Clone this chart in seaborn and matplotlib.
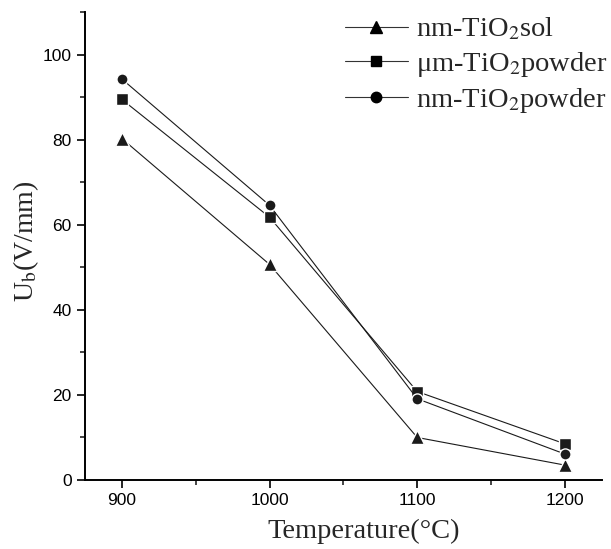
import matplotlib
matplotlib.use("Agg")
import matplotlib.pyplot as plt
import seaborn as sns
import pandas as pd
from matplotlib.ticker import MultipleLocator

temperature = [900, 1000, 1100, 1200]
nm_sol = [80.3, 50.7, 10.0, 3.5]
um_powder = [89.5, 61.8, 20.8, 8.5]
nm_powder = [94.3, 64.6, 19.1, 6.1]
series_names = ["nm-TiO$_2$sol", "μm-TiO$_2$powder", "nm-TiO$_2$powder"]

sns.set_style("ticks")
plt.rcParams["font.family"] = ["Liberation Sans", "DejaVu Sans"]
plt.rcParams["mathtext.fontset"] = "stix"

rows = []
for name, vals in zip(series_names, [nm_sol, um_powder, nm_powder]):
    for t, v in zip(temperature, vals):
        rows.append({"T": t, "U": v, "series": name})
df = pd.DataFrame(rows)

fig = plt.figure(figsize=(6.11, 5.49), dpi=100)
ax = fig.add_axes([0.139, 0.1257, 0.846, 0.852])

markers = {series_names[0]: "^", series_names[1]: "s", series_names[2]: "o"}
palette = {n: "#1a1a1a" for n in series_names}
sns.lineplot(data=df, x="T", y="U", hue="series", style="series",
             markers=markers, dashes=False, palette=palette,
             hue_order=series_names, style_order=series_names,
             linewidth=0.8, markersize=8, markeredgecolor="white",
             markeredgewidth=1.0, ax=ax)
for ln in ax.lines:
    if ln.get_marker() == "^":
        ln.set_markersize(9.5)

ax.set_xlim(875, 1225)
ax.set_ylim(0, 110)
ax.set_xticks(temperature)
ax.set_yticks([0, 20, 40, 60, 80, 100])
ax.xaxis.set_minor_locator(MultipleLocator(50))
ax.yaxis.set_minor_locator(MultipleLocator(10))
ax.tick_params(which="major", direction="out", length=6, width=1.2,
               labelsize=12.5, colors="black")
ax.tick_params(which="minor", direction="out", length=3.5, width=1.2)
for s in ["top", "right"]:
    ax.spines[s].set_visible(False)
for s in ["left", "bottom"]:
    ax.spines[s].set_linewidth(1.4)
    ax.spines[s].set_color("black")

ax.set_xlabel("Temperature(°C)", fontfamily="Liberation Serif", fontsize=20.5)
ax.set_ylabel("U$_\\mathrm{b}$(V/mm)", fontfamily="Liberation Serif", fontsize=20)
ax.xaxis.set_label_coords(0.54, -0.082)
ax.yaxis.set_label_coords(-0.085, 0.51)

leg = ax.legend(loc="upper left", frameon=False,
                prop={"family": "Liberation Serif", "size": 20.5},
                handlelength=2.2, handletextpad=0.3, labelspacing=0.25,
                borderpad=0, borderaxespad=0,
                bbox_to_anchor=(345 / 611, 1 - 16 / 549),
                bbox_transform=fig.transFigure)
for lh in leg.get_lines():
    lh.set_markeredgecolor("black")
    lh.set_markersize(7.5 if lh.get_marker() != "^" else 8.5)
    lh.set_color("#333333")
    lh.set_markerfacecolor("black")

fig.savefig("out.png", dpi=100)
